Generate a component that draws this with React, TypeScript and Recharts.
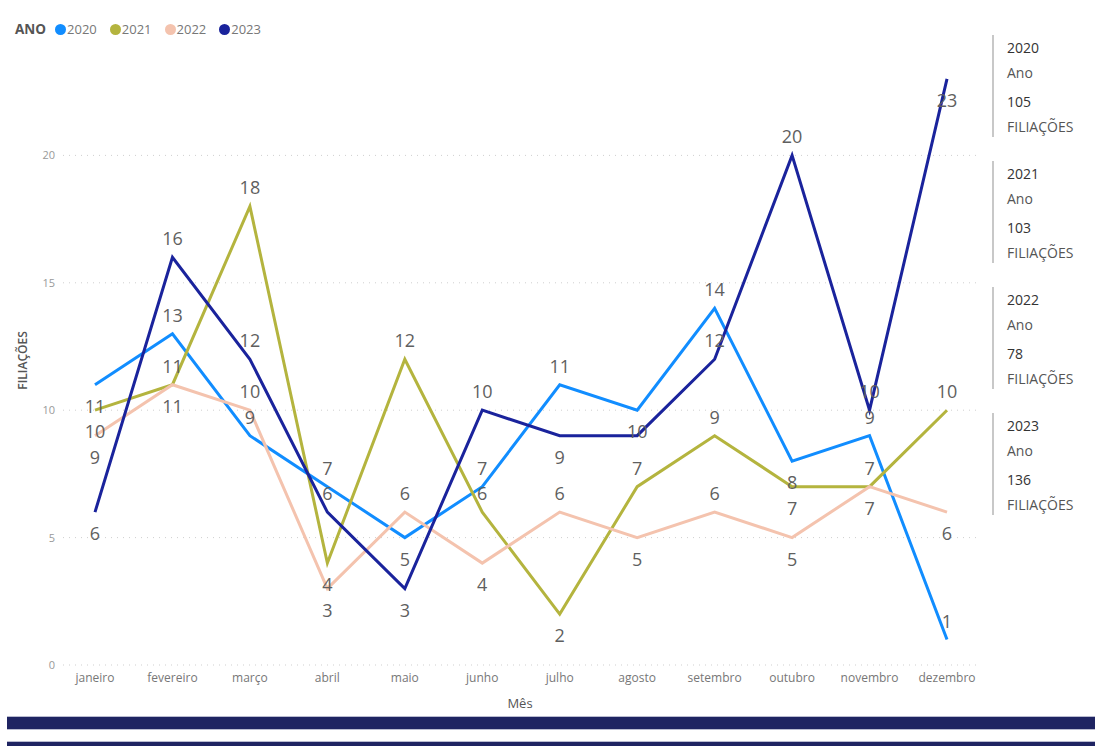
import { LineChart, Line, XAxis, YAxis, ReferenceLine, LabelList } from "recharts";

const months = [
  "janeiro", "fevereiro", "março", "abril", "maio", "junho",
  "julho", "agosto", "setembro", "outubro", "novembro", "dezembro",
];
const years = ["2020", "2021", "2022", "2023"];
const v2020 = [11, 13, 9, 7, 5, 7, 11, 10, 14, 8, 9, 1];
const v2021 = [10, 11, 18, 4, 12, 6, 2, 7, 9, 7, 7, 10];
const v2022 = [9, 11, 10, 3, 6, 4, 6, 5, 6, 5, 7, 6];
const v2023 = [6, 16, 12, 6, 3, 10, 9, 9, 12, 20, 10, 23];
const totals = [105, 103, 78, 136];
const yTicks = [0, 5, 10, 15, 20];

// where each data label sits: a = above, b = below, "" = hidden (overlap)
const place2020 = ["b", "a", "a", "a", "b", "a", "a", "b", "a", "b", "a", "a"];
const place2021 = ["b", "a", "a", "b", "a", "a", "b", "a", "a", "b", "b", "a"];
const place2022 = ["b", "b", "a", "b", "a", "b", "a", "b", "a", "b", "a", "b"];
const place2023 = ["b", "a", "a", "a", "b", "a", "b", "", "a", "a", "a", "b"];

const colors = ["#118DFF", "#B4B43E", "#F4C3AE", "#1A239C"];
const FONT = "'Open Sans', 'Noto Sans', sans-serif";

const rows = months.map((m, i) => ({
  mes: m,
  y2020: v2020[i],
  y2021: v2021[i],
  y2022: v2022[i],
  y2023: v2023[i],
}));

const series = [
  { key: "y2020", place: place2020 },
  { key: "y2021", place: place2021 },
  { key: "y2022", place: place2022 },
  { key: "y2023", place: place2023 },
];

function makeLabel(place: string[]) {
  return (props: any) => {
    const { x, y, value, index } = props;
    const p = place[index];
    if (!p) return null;
    return (
      <text
        x={x}
        y={p === "a" ? y - 19 : y + 21}
        textAnchor="middle"
        dominantBaseline="central"
        fontSize={18}
        fontFamily={FONT}
        fill="#5f5f5f"
      >
        {value}
      </text>
    );
  };
}

function YTitle(props: any) {
  const { viewBox } = props;
  const x = viewBox.x + 22;
  const y = viewBox.y + viewBox.height / 2 + 14;
  return (
    <text
      x={x}
      y={y}
      transform={`rotate(-90, ${x}, ${y})`}
      textAnchor="middle"
      dominantBaseline="central"
      fontSize={12}
      fontWeight={600}
      fontFamily={FONT}
      fill="#555"
    >
      FILIAÇÕES
    </text>
  );
}

export default function App() {
  return (
    <div style={{ position: "absolute", left: 0, top: 0, width: 1095, height: 746, background: "#fff", fontFamily: FONT, overflow: "hidden" }}>
      {/* legend */}
      <div style={{ position: "absolute", left: 15, top: 20, display: "flex", alignItems: "center", fontSize: 13, color: "#777", whiteSpace: "nowrap" }}>
        <span style={{ fontWeight: 700, color: "#555", marginRight: 9, fontSize: 13.5 }}>ANO</span>
        {years.map((yr, i) => (
          <span key={yr} style={{ display: "flex", alignItems: "center", marginRight: 13 }}>
            <span style={{ width: 11, height: 11, borderRadius: 6, background: colors[i], marginRight: 1 }} />
            {yr}
          </span>
        ))}
      </div>

      <div style={{ position: "absolute", left: 0, top: 0 }}>
        <LineChart width={990} height={715} data={rows} margin={{ top: 28, right: 13, left: 0, bottom: 5 }}>
          {yTicks.map((t) => (
            <ReferenceLine key={t} y={t} stroke="#cfcfcf" strokeDasharray="1 5" />
          ))}
          <XAxis
            dataKey="mes"
            height={45}
            axisLine={false}
            tickLine={false}
            interval={0}
            padding={{ left: 32, right: 30 }}
            tick={{ fontSize: 12, fill: "#777", fontFamily: FONT }}
            label={{ value: "Mês", position: "insideBottom", offset: 2, fontSize: 13, fill: "#555", fontFamily: FONT }}
          />
          <YAxis
            width={63}
            domain={[0, 25]}
            ticks={yTicks}
            axisLine={false}
            tickLine={false}
            tick={{ fontSize: 11, fill: "#999", fontFamily: FONT }}
            label={<YTitle />}
          />
          {series.map((s, i) => (
            <Line
              key={s.key}
              type="linear"
              dataKey={s.key}
              stroke={colors[i]}
              strokeWidth={3}
              dot={false}
              activeDot={false}
              isAnimationActive={false}
            >
              <LabelList dataKey={s.key} content={makeLabel(s.place)} />
            </Line>
          ))}
        </LineChart>
      </div>

      {/* right cards */}
      {years.map((yr, i) => (
        <div
          key={yr}
          style={{
            position: "absolute",
            left: 992,
            top: 35 + i * 126,
            height: 102,
            borderLeft: "2px solid #c8c8c8",
            paddingLeft: 13,
            fontSize: 14,
            lineHeight: "25px",
          }}
        >
          <div style={{ color: "#333", marginTop: 0 }}>{yr}</div>
          <div style={{ color: "#555" }}>Ano</div>
          <div style={{ color: "#333", marginTop: 4 }}>{totals[i]}</div>
          <div style={{ color: "#555" }}>FILIAÇÕES</div>
        </div>
      ))}

      {/* bottom bars */}
      <div style={{ position: "absolute", left: 7, top: 716, width: 1088, height: 12, background: "#1F2462", borderTop: "1px solid #b9bbd0", borderBottom: "1px solid #b9bbd0" }} />
      <div style={{ position: "absolute", left: 7, top: 741, width: 1088, height: 6, background: "#1F2462", borderTop: "1px solid #b9bbd0" }} />
    </div>
  );
}
